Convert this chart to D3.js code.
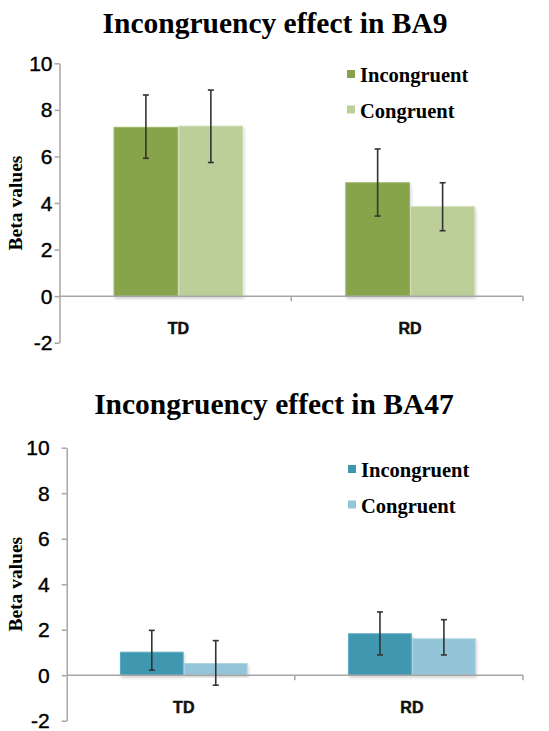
<!DOCTYPE html>
<html>
<head>
<meta charset="utf-8">
<script src="https://cdn.jsdelivr.net/npm/d3@7"></script>
<style>
    body { margin: 0; background: #fff; }
    .title { font-family: "Liberation Serif", "DejaVu Serif", serif; font-weight: bold; }
    .legend-label { font-family: "Liberation Serif", serif; font-weight: bold; }
    .axis-label { font-family: "Liberation Serif", serif; font-weight: bold; }
    .tick-label { font-family: "Liberation Sans", Arial, sans-serif; }
    .cat-label { font-family: "Liberation Sans", Arial, sans-serif; font-weight: bold; }
</style>
</head>
<body>
<script>
// categories and series
var groups = ["TD", "RD"]
var series = ["Incongruent", "Congruent"]
var yTicks = [-2, 0, 2, 4, 6, 8, 10]

// BA9 values
var ba9Incongruent = [7.25, 4.87]
var ba9Congruent = [7.3, 3.84]
var ba9IncongruentErr = [[5.92, 8.64], [3.44, 6.32]]
var ba9CongruentErr = [[5.74, 8.85], [2.81, 4.87]]

// BA47 values
var ba47Incongruent = [1.01, 1.82]
var ba47Congruent = [0.51, 1.6]
var ba47IncongruentErr = [[0.22, 1.97], [0.89, 2.78]]
var ba47CongruentErr = [[-0.44, 1.52], [0.89, 2.44]]

const width = 549
const height = 731

var svg = d3.select("body")
    .append("svg")
    .attr("width", width)
    .attr("height", height)

// soft shadow under the bars
var defs = svg.append("defs")
var filter = defs.append("filter").attr("id", "shadow")
    .attr("x", "-10%").attr("y", "-10%").attr("width", "130%").attr("height", "130%")
filter.append("feDropShadow")
    .attr("dx", 1).attr("dy", 2).attr("stdDeviation", 1.5)
    .attr("flood-color", "#000").attr("flood-opacity", 0.18)

function drawChart(opts) {
    var g = svg.append("g")

    //scales
    var yScale = d3.scaleLinear()
        .domain([-2, 10])
        .range([opts.yBottom, opts.yTop])

    var xScale = d3.scaleBand()
        .domain(groups)
        .range([opts.xLeft, opts.xRight])

    var bw = xScale.bandwidth()
    var groupW = bw * 0.555
    var xInner = d3.scaleBand()
        .domain(series)
        .range([(bw - groupW) / 2 + 3, (bw + groupW) / 2 + 3])
        .paddingInner(0.02)

    //title
    g.append("text")
        .attr("class", "title")
        .attr("x", opts.titleX)
        .attr("y", opts.titleY)
        .attr("text-anchor", "middle")
        .attr("font-size", 29.5)
        .text(opts.title)

    //y axis
    var yAxis = d3.axisLeft(yScale)
        .tickValues(yTicks)
        .tickSize(5)
        .tickSizeOuter(0)
        .tickFormat("")
    var ya = g.append("g")
        .attr("transform", "translate(" + opts.xLeft + ",0)")
        .call(yAxis)
    ya.select(".domain").attr("stroke", "#a6a6a6").attr("stroke-width", 1.5)
    ya.selectAll(".tick line").attr("stroke", "#a6a6a6").attr("stroke-width", 1.5)

    //y tick labels
    g.selectAll(".tick-label")
        .data(yTicks)
        .enter()
        .append("text")
        .attr("class", "tick-label")
        .attr("x", opts.xLeft - opts.labelGap)
        .attr("y", d => yScale(d) + 7.5)
        .attr("text-anchor", "end")
        .attr("font-size", 21)
        .attr("stroke", "#000")
        .attr("stroke-width", 0.4)
        .attr("fill", "#000")
        .text(d => d)

    //y axis title
    g.append("text")
        .attr("class", "axis-label")
        .attr("text-anchor", "middle")
        .attr("transform", "translate(" + 22 + "," + ((opts.yTop + opts.yBottom) / 2) + ") rotate(-90)")
        .attr("font-size", 19.5)
        .text("Beta values")

    //bars
    var bars = []
    groups.forEach(function (grp, i) {
        series.forEach(function (s, j) {
            bars.push({
                group: grp,
                series: s,
                value: opts.values[j][i],
                err: opts.errors[j][i]
            })
        })
    })

    g.selectAll(".bar")
        .data(bars)
        .enter()
        .append("rect")
        .attr("class", "bar")
        .attr("x", d => xScale(d.group) + xInner(d.series))
        .attr("y", d => yScale(d.value))
        .attr("width", xInner.bandwidth())
        .attr("height", d => yScale(0) - yScale(d.value))
        .attr("fill", d => opts.colors[series.indexOf(d.series)])
        .attr("stroke", d => opts.strokes[series.indexOf(d.series)])
        .attr("stroke-width", 1)
        .attr("filter", "url(#shadow)")

    //x axis at zero
    var xa = g.append("g")
    xa.append("line")
        .attr("x1", opts.xLeft).attr("x2", opts.xRight)
        .attr("y1", yScale(0)).attr("y2", yScale(0))
        .attr("stroke", "#a6a6a6").attr("stroke-width", 1.5)
    xa.selectAll(".xtick")
        .data(groups.slice(1).concat(["end"]))
        .enter()
        .append("line")
        .attr("x1", d => d == "end" ? opts.xRight : xScale(d))
        .attr("x2", d => d == "end" ? opts.xRight : xScale(d))
        .attr("y1", yScale(0))
        .attr("y2", yScale(0) + 5)
        .attr("stroke", "#a6a6a6").attr("stroke-width", 1.5)

    //category labels
    g.selectAll(".cat-label")
        .data(groups)
        .enter()
        .append("text")
        .attr("class", "cat-label")
        .attr("x", d => xScale(d) + bw / 2 + 3)
        .attr("y", yScale(0) + 38)
        .attr("text-anchor", "middle")
        .attr("font-size", 16)
        .attr("stroke", "#111")
        .attr("stroke-width", 0.5)
        .attr("fill", "#111")
        .text(d => d)

    //error bars
    var eb = g.selectAll(".err")
        .data(bars)
        .enter()
        .append("g")
        .attr("class", "err")
        .attr("stroke", "#333")
        .attr("stroke-width", 1.6)
    eb.append("line")
        .attr("x1", d => xScale(d.group) + xInner(d.series) + xInner.bandwidth() / 2)
        .attr("x2", d => xScale(d.group) + xInner(d.series) + xInner.bandwidth() / 2)
        .attr("y1", d => yScale(d.err[0]))
        .attr("y2", d => yScale(d.err[1]))
    eb.selectAll(".cap")
        .data(d => d.err.map(v => ({ d: d, v: v })))
        .enter()
        .append("line")
        .attr("x1", c => xScale(c.d.group) + xInner(c.d.series) + xInner.bandwidth() / 2 - 3)
        .attr("x2", c => xScale(c.d.group) + xInner(c.d.series) + xInner.bandwidth() / 2 + 3)
        .attr("y1", c => yScale(c.v))
        .attr("y2", c => yScale(c.v))

    //legend
    var lg = g.selectAll(".legend")
        .data(series)
        .enter()
        .append("g")
        .attr("class", "legend")
        .attr("transform", (d, i) => "translate(" + opts.legendX + "," + (opts.legendY + i * 35.5) + ")")
    lg.append("rect")
        .attr("x", 0).attr("y", -12)
        .attr("width", 8).attr("height", 8)
        .attr("fill", (d, i) => opts.colors[i])
    lg.append("text")
        .attr("class", "legend-label")
        .attr("x", 13)
        .attr("y", 0)
        .attr("font-size", 20.5)
        .text(d => d)
}

drawChart({
    title: "Incongruency effect in BA9",
    titleX: 275, titleY: 33,
    yTop: 63.3, yBottom: 342.7,
    xLeft: 59.5, xRight: 523,
    labelGap: 7,
    values: [ba9Incongruent, ba9Congruent],
    errors: [ba9IncongruentErr, ba9CongruentErr],
    colors: ["#87a44c", "#bccf98"],
    strokes: ["#9bb564", "#cddcb0"],
    legendX: 347, legendY: 82
})

drawChart({
    title: "Incongruency effect in BA47",
    titleX: 274, titleY: 414,
    yTop: 447.7, yBottom: 720.7,
    xLeft: 66.7, xRight: 523,
    labelGap: 17,
    values: [ba47Incongruent, ba47Congruent],
    errors: [ba47IncongruentErr, ba47CongruentErr],
    colors: ["#3f98b0", "#93c4d7"],
    strokes: ["#5aaac0", "#acd3e2"],
    legendX: 348, legendY: 477
})
</script>
</body>
</html>
